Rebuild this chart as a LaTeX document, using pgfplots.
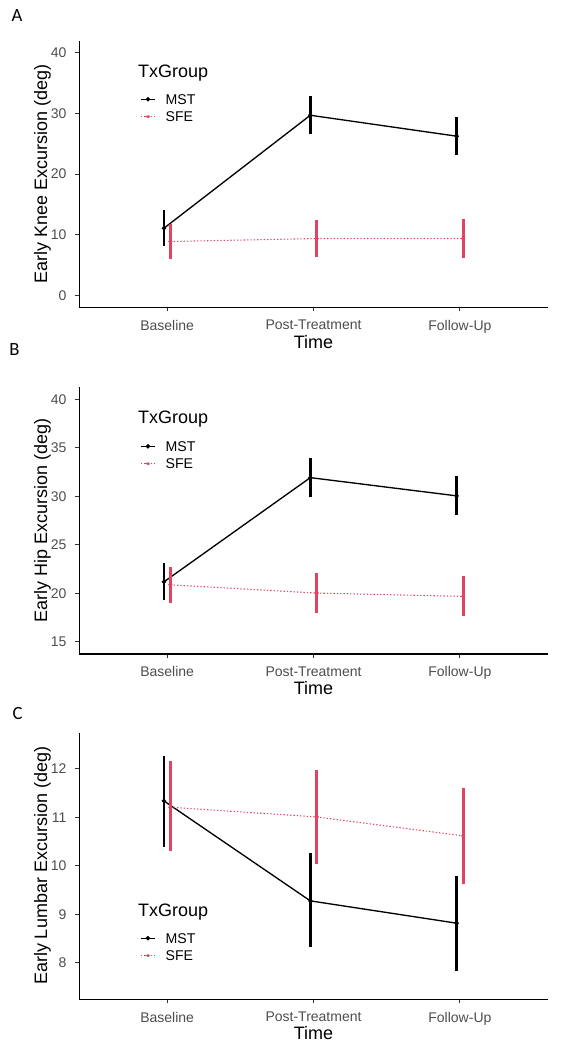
\documentclass[border=0pt]{standalone}
\usepackage{fontspec}
\setmainfont{Liberation Sans}
\newfontfamily\carlito{Carlito}
\usepackage{pgfplots}
\usepackage{pgfplotstable}
\pgfplotsset{compat=1.18}
\definecolor{sfecol}{HTML}{E04465}
\definecolor{tickgray}{HTML}{4D4D4D}

\pgfplotstableread{
x y hi lo
0.978 11.07 14.03 8.11
1.978 29.70 32.88 26.63
2.978 26.25 29.37 23.12
}\kneeMST
\pgfplotstableread{
x y hi lo
1.022 8.88 11.84 5.92
2.022 9.37 12.49 6.30
3.022 9.37 12.66 6.14
}\kneeSFE
\pgfplotstableread{
x y hi lo
0.978 21.19 23.10 19.27
1.978 31.93 33.91 29.95
2.978 30.05 32.07 28.03
}\hipMST
\pgfplotstableread{
x y hi lo
1.022 20.88 22.76 18.97
2.022 20.03 22.08 18.01
3.022 19.69 21.81 17.63
}\hipSFE
\pgfplotstableread{
x y hi lo
0.978 11.34 12.26 10.39
1.978 9.28 10.26 8.32
2.978 8.82 9.80 7.84
}\lumMST
\pgfplotstableread{
x y hi lo
1.022 11.21 12.16 10.30
2.022 11.01 11.98 10.04
3.022 10.62 11.61 9.62
}\lumSFE

\pgfplotsset{
  panel/.style={
    scale only axis, width=351.3pt, height=200.1pt,
    xmin=0.4, xmax=3.6, xtick={1,2,3},
    xticklabels={Baseline,Post-Treatment,Follow-Up},
    axis x line*=bottom, axis y line*=left,
    axis line style={-, line width=0.8pt, black},
    tick align=outside, major tick length=3pt,
    tick style={line width=0.8pt, color=black!80},
    minor tick num=0,
    /pgf/number format/assume math mode=true,
    tick label style={font=\fontsize{10.5}{12}\selectfont, text=tickgray},
    xticklabel style={anchor=north, inner sep=0pt, yshift=-6.3pt},
    yticklabel style={anchor=east, inner sep=0pt, xshift=-6.45pt},
    xlabel={Time},
    label style={font=\fontsize{13.5}{16}\selectfont},
    xlabel style={at={(axis description cs:0.5,-0.128)}, anchor=center, inner sep=0pt},
    ylabel style={at={(axis description cs:-0.0786,0.5)}, anchor=center, inner sep=0pt},
    legend style={draw=none, fill=none, inner sep=0pt, anchor=north west,
      row sep=5.5pt, column sep=7.5pt,
      font=\fontsize{10.6}{12}\selectfont,
      nodes={inner sep=0pt, text height=7.5pt, text depth=0pt}},
    legend cell align=left,
    clip=false,
  },
  mststyle/.style={black, line width=1pt, mark=*, mark size=1.1pt, mark options={solid},
    legend image code/.code={
      \draw[black, line width=1pt] (0pt,0pt) -- (10.5pt,0pt);
      \fill[black] (5.25pt,0pt) circle (1.1pt);},
    error bars/.cd, y dir=both, y explicit, error mark=none,
    error bar style={line width=2.1pt, solid, black}},
  sfestyle/.style={sfecol, line width=0.8pt, dash pattern=on 1pt off 1.5pt, mark=*, mark size=1.1pt, mark options={solid},
    legend image code/.code={
      \draw[sfecol, line width=0.8pt, dash pattern=on 1pt off 1.5pt] (0pt,0pt) -- (10.5pt,0pt);
      \fill[sfecol] (5.25pt,0pt) circle (1.1pt);},
    error bars/.cd, y dir=both, y explicit, error mark=none,
    error bar style={line width=2.1pt, solid, sfecol}},
}

\begin{document}
\begin{tikzpicture}
\path[use as bounding box] (0,0) rectangle (424.5pt,-787.5pt);

% Panel A
\node[anchor=west, inner sep=0pt, font=\carlito\fontsize{14}{16}\selectfont] at (8.5pt,-11.5pt) {A};
\begin{axis}[panel, at={(59.5pt,-230.6pt)}, anchor=south west,
  ymin=-2, ymax=42, ytick={0,10,20,30,40},
  ylabel={Early Knee Excursion (deg)},
  legend style={at={(axis description cs:0.1296,0.800)}}]
\addplot[mststyle] table[x=x, y=y, y error plus expr=\thisrow{hi}-\thisrow{y}, y error minus expr=\thisrow{y}-\thisrow{lo}] {\kneeMST};
\addplot[sfestyle] table[x=x, y=y, y error plus expr=\thisrow{hi}-\thisrow{y}, y error minus expr=\thisrow{y}-\thisrow{lo}] {\kneeSFE};
\legend{MST,SFE}
\node[anchor=west, inner sep=0pt, font=\fontsize{13.5}{16}\selectfont] at (axis description cs:0.1247,0.880) {TxGroup};
\end{axis}

% Panel B
\node[anchor=west, inner sep=0pt, font=\carlito\fontsize{14}{16}\selectfont] at (6.8pt,-262pt) {B};
\begin{axis}[panel, at={(59.5pt,-490.5pt)}, anchor=south west,
  ymin=13.75, ymax=41.25, ytick={15,20,25,30,35,40},
  ylabel={Early Hip Excursion (deg)},
  legend style={at={(axis description cs:0.1296,0.798)}}]
\addplot[mststyle] table[x=x, y=y, y error plus expr=\thisrow{hi}-\thisrow{y}, y error minus expr=\thisrow{y}-\thisrow{lo}] {\hipMST};
\addplot[sfestyle] table[x=x, y=y, y error plus expr=\thisrow{hi}-\thisrow{y}, y error minus expr=\thisrow{y}-\thisrow{lo}] {\hipSFE};
\legend{MST,SFE}
\node[anchor=west, inner sep=0pt, font=\fontsize{13.5}{16}\selectfont] at (axis description cs:0.1247,0.880) {TxGroup};
\end{axis}

% Panel C
\node[anchor=west, inner sep=0pt, font=\carlito\fontsize{14}{16}\selectfont] at (9.2pt,-535pt) {C};
\begin{axis}[panel, at={(59.5pt,-749.5pt)}, anchor=south west,
  ymin=7.25, ymax=12.75, ytick={8,9,10,11,12},
  ylabel={Early Lumbar Excursion (deg)},
  legend style={at={(axis description cs:0.1296,0.249)}}]
\addplot[mststyle] table[x=x, y=y, y error plus expr=\thisrow{hi}-\thisrow{y}, y error minus expr=\thisrow{y}-\thisrow{lo}] {\lumMST};
\addplot[sfestyle] table[x=x, y=y, y error plus expr=\thisrow{hi}-\thisrow{y}, y error minus expr=\thisrow{y}-\thisrow{lo}] {\lumSFE};
\legend{MST,SFE}
\node[anchor=west, inner sep=0pt, font=\fontsize{13.5}{16}\selectfont] at (axis description cs:0.1247,0.3274) {TxGroup};
\end{axis}
\end{tikzpicture}
\end{document}
